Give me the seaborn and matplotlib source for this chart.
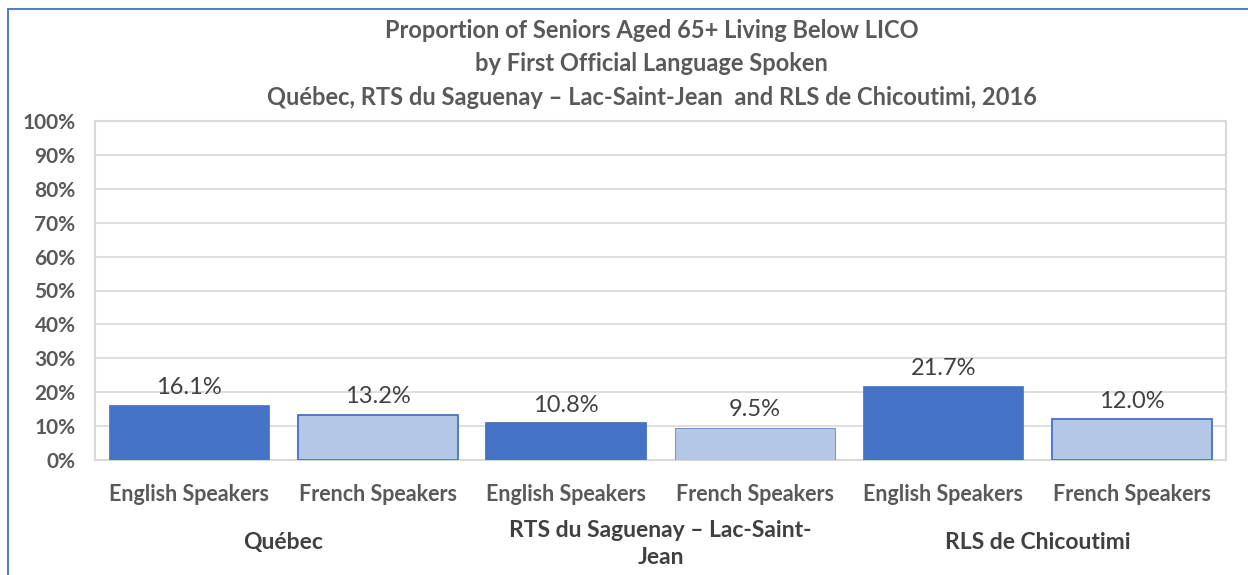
import matplotlib.pyplot as plt
import matplotlib.patches as mpatches
import numpy as np
import pandas as pd
import seaborn as sns

regions = ['Québec', 'RTS du Saguenay – Lac-Saint-\nJean', 'RLS de Chicoutimi']
speakers = ['English Speakers', 'French Speakers']
values = [16.1, 13.2, 10.8, 9.5, 21.7, 12.0]

title = ('Proportion of Seniors Aged 65+ Living Below LICO\n'
         'by First Official Language Spoken\n'
         'Québec, RTS du Saguenay – Lac-Saint-Jean  and RLS de Chicoutimi, 2016')

sns.set_theme(style='white')
plt.rcParams['font.family'] = ['Lato', 'DejaVu Sans']

df = pd.DataFrame({
    'region': np.repeat(regions, len(speakers)),
    'speaker': speakers * len(regions),
    'value': values,
})
df['slot'] = [f'{i}' for i in range(len(df))]

fig = plt.figure(figsize=(12.48, 5.75), dpi=100)
ax = fig.add_axes([95 / 1248, 1 - 460 / 575, 1131 / 1248, 339 / 575])

pal = {'English Speakers': '#4472C4', 'French Speakers': '#B4C7E7'}
sns.barplot(data=df, x='slot', y='value', hue='speaker', palette=pal,
            dodge=False, width=0.85, saturation=1, legend=False, ax=ax, zorder=3)
for bar, sp in zip(ax.patches, df['speaker']):
    bar.set_edgecolor('#4472C4')
    bar.set_linewidth(1.3 if sp == 'French Speakers' else 0.5)

for i, v in enumerate(df['value']):
    ax.text(i, v + 2.3, f'{v:.1f}%', ha='center', va='bottom',
            fontsize=17, color='#404040', zorder=4)

ax.set_ylim(0, 100)
ax.set_yticks(range(0, 101, 10))
ax.set_yticklabels([f'{t}%' for t in range(0, 101, 10)], fontsize=15,
                   fontweight='bold', color='#595959')
ax.set_xticks(range(len(df)))
ax.set_xticklabels(df['speaker'], fontsize=15.5, fontweight='bold', color='#595959')
ax.tick_params(axis='x', pad=17, length=0)
ax.tick_params(axis='y', pad=14, length=0)
ax.set_xlim(-0.5, len(df) - 0.5)
ax.set_xlabel('')
ax.set_ylabel('')
ax.grid(axis='y', color='#D9D9D9', linewidth=1.2, zorder=0)
for s in ax.spines.values():
    s.set_color('#D9D9D9')
    s.set_linewidth(1.5)

for k, r in enumerate(regions):
    xc = 2 * k + 0.5
    ax.text(xc, -21.3 if '\n' not in r else -17.8, r, ha='center', va='top',
            transform=ax.transData, fontsize=16.5, fontweight='bold',
            color='#404040', linespacing=1.35, clip_on=False)

fig.text(0.522, 1 - 19 / 575, title, ha='center', va='top', fontsize=17,
         fontweight='bold', color='#595959', linespacing=1.55)

fig.patches.append(mpatches.Rectangle((8 / 1248, -0.05), 1.2, 1 - 9 / 575 + 0.05,
                                      transform=fig.transFigure, fill=False,
                                      edgecolor='#4472C4', linewidth=1.3))

fig.savefig('out.png', dpi=100)
